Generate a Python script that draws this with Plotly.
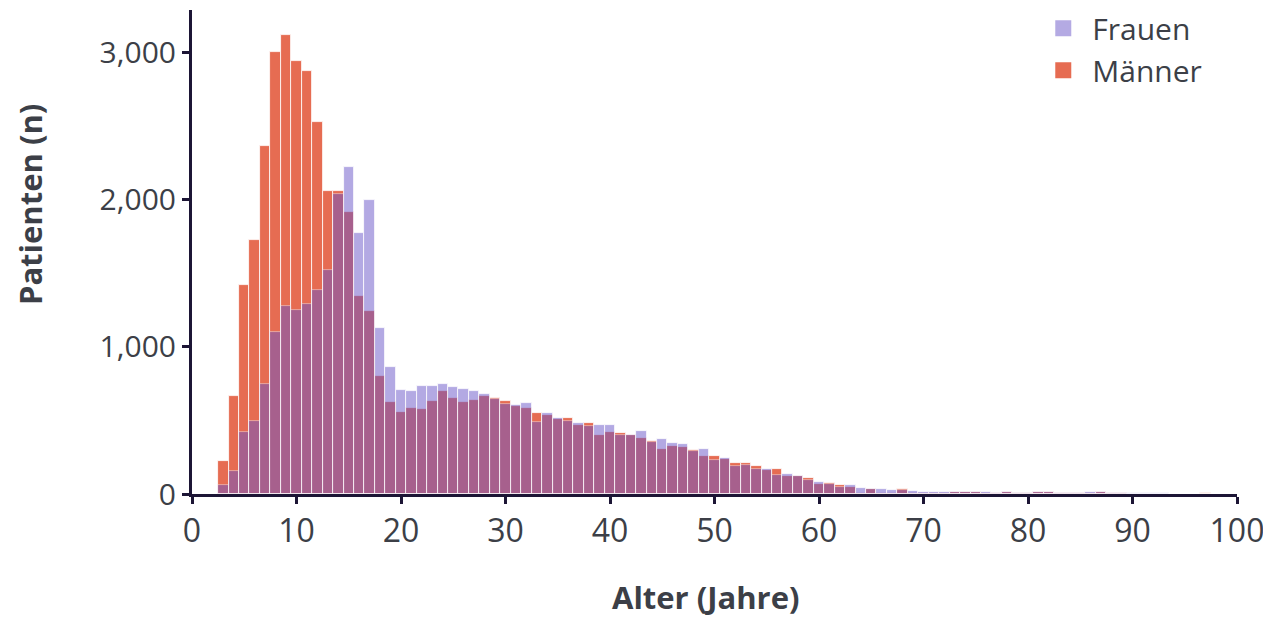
import plotly.graph_objects as go

ages = list(range(3, 99))

frauen = [58, 153, 424, 499, 750, 1103, 1280, 1253, 1293, 1388, 1524, 2040, 2223, 1775, 1999,
          1130, 866, 709, 703, 737, 737, 750, 730, 716, 703, 682, 648, 614, 608, 621, 492, 553,
          519, 499, 485, 465, 472, 472, 404, 404, 431, 356, 377, 350, 343, 295, 309, 234, 248,
          193, 200, 173, 173, 132, 139, 119, 98, 85, 71, 51, 58, 44, 37, 31, 24, 24, 23, 17, 17,
          17, 17, 17, 17, 17, 7, 17, 7, 7, 14, 14, 7, 8, 10, 17, 17, 10, 7, 5, 4, 4, 7, 3, 3, 2, 3, 2]

maenner = [227, 669, 1422, 1728, 2366, 3004, 3119, 2943, 2875, 2529, 2060, 2060, 1918, 1348, 1246,
           804, 628, 560, 587, 580, 635, 703, 655, 628, 642, 669, 655, 635, 601, 587, 553, 540,
           513, 519, 472, 485, 404, 424, 418, 404, 384, 363, 309, 329, 322, 302, 261, 255, 241,
           214, 214, 193, 160, 173, 119, 119, 112, 71, 78, 64, 51, 10, 31, 10, 10, 31, 8, 10, 8,
           8, 17, 17, 17, 10, 7, 17, 7, 7, 17, 17, 7, 10, 10, 10, 17, 10, 7, 3, 3, 3, 3, 2, 2, 2, 10, 2]

x_ticks = [0, 10, 20, 30, 40, 50, 60, 70, 80, 90, 100]
y_ticks = [0, 1000, 2000, 3000]

AXIS = "#1c1535"
TEXT = "#3c3f47"
C_M = "#e66c52"
C_F = "#6955c9"
C_F_LEG = "#b4aae3"

fig = go.Figure()
fig.add_trace(go.Bar(
    x=ages, y=maenner, name="Männer", width=1, showlegend=False,
    marker=dict(color=C_M, line=dict(color="white", width=0.8)),
))
fig.add_trace(go.Bar(
    x=ages, y=frauen, name="Frauen", width=1, opacity=0.5, showlegend=False,
    marker=dict(color=C_F, line=dict(color="white", width=0.8)),
))
# legend entries
fig.add_trace(go.Scatter(x=[None], y=[None], mode="markers", name="Frauen",
                         marker=dict(symbol="square", size=18, color=C_F_LEG)))
fig.add_trace(go.Scatter(x=[None], y=[None], mode="markers", name="Männer",
                         marker=dict(symbol="square", size=18, color=C_M)))

fig.update_layout(
    width=1263, height=610,
    barmode="overlay", bargap=0,
    plot_bgcolor="white", paper_bgcolor="white",
    margin=dict(l=184, r=34, t=2, b=124, autoexpand=False),
    font=dict(family="Open Sans", color=TEXT),
    legend=dict(x=0.806, xanchor="left", y=1.016, yanchor="top",
                font=dict(size=30, color=TEXT), itemsizing="trace", itemwidth=48,
                bgcolor="rgba(0,0,0,0)", tracegroupgap=0),
    xaxis=dict(
        range=[0, 100], tickvals=x_ticks, ticks="outside", ticklen=7, tickwidth=3,
        tickcolor=AXIS, showline=True, linecolor=AXIS, linewidth=3, showgrid=False,
        zeroline=False, tickfont=dict(size=32, color=TEXT),
    ),
    yaxis=dict(
        range=[0, 3290], tickvals=y_ticks, tickformat=",", ticks="outside", ticklen=7,
        tickwidth=3, tickcolor=AXIS, showline=True, linecolor=AXIS, linewidth=3,
        showgrid=False, zeroline=False, tickfont=dict(size=30, color=TEXT),
    ),
    annotations=[
        dict(text="<b>Alter (Jahre)</b>", xref="paper", yref="paper", x=0.492, y=-0.213,
             xanchor="center", yanchor="middle", showarrow=False, borderpad=0,
             font=dict(size=31, color=TEXT)),
        dict(text="<b>Patienten (n)</b>", xref="paper", yref="paper", x=-0.155, y=0.597,
             xanchor="center", yanchor="middle", showarrow=False, textangle=-90, borderpad=0,
             font=dict(size=31, color=TEXT)),
    ],
)

fig.write_html("out.html")
